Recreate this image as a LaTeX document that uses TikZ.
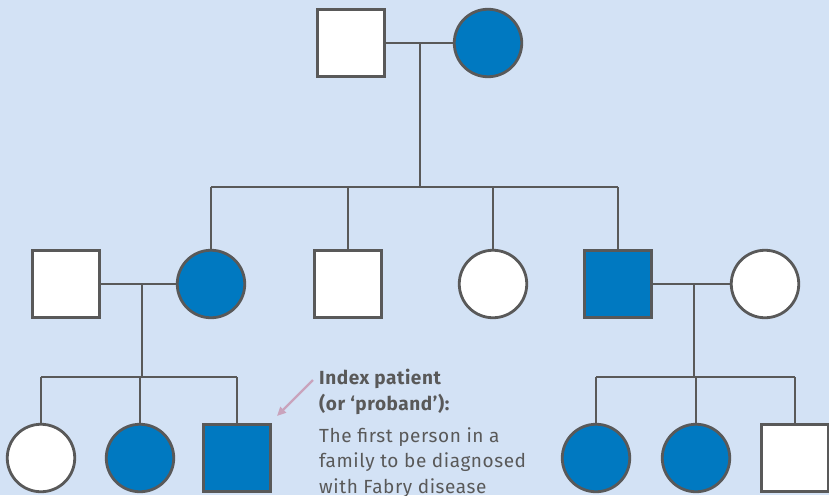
\documentclass[tikz,border=0pt]{standalone}
\usepackage{fontspec}
\setmainfont{Fira Sans}
\newfontfamily\notefont{Fira Sans}[LetterSpace=3]
\usetikzlibrary{arrows.meta}

\definecolor{backdrop}{HTML}{D3E2F5}
\definecolor{affected}{HTML}{0079C1}
\definecolor{edge}{HTML}{595959}
\definecolor{pointer}{HTML}{C9A3BC}

\tikzset{
  male/.style={draw=edge, line width=2.8pt, fill=white, rectangle, minimum size=66.5pt, inner sep=0pt},
  female/.style={draw=edge, line width=2.8pt, fill=white, circle, minimum size=67.5pt, inner sep=0pt},
  hit/.style={fill=affected},
  link/.style={draw=edge, line width=2.6pt},
}

\begin{document}
\begin{tikzpicture}[x=1pt, y=-1pt]

\fill[backdrop] (0,0) rectangle (829,495);
\useasboundingbox (0,0) rectangle (829,495);

% ---- Generation I ----
\node[male]        (gpa) at (351,43) {};
\node[female, hit] (gma) at (488,43) {};
\coordinate (m0) at (420,43);
\coordinate (sib0) at (420,187);

% ---- Generation II ----
\node[male]        (hus1) at (66,284)  {};
\node[female, hit] (dau1) at (211,284) {};
\node[male]        (son1) at (348,284) {};
\node[female]      (dau2) at (493,284) {};
\node[male, hit]   (son2) at (618,284) {};
\node[female]      (wif2) at (765,284) {};

\coordinate (m1) at (142,284);
\coordinate (m2) at (694,284);
\coordinate (sib1) at (142,377);
\coordinate (sib2) at (694,377);

% ---- Generation III ----
\node[female]      (kid1) at (41,458)  {};
\node[female, hit] (kid2) at (140,458) {};
\node[male, hit]   (kid3) at (237,458) {};
\node[female, hit] (kid4) at (596,458) {};
\node[female, hit] (kid5) at (696,458) {};
\node[male]        (kid6) at (795,458) {};

% ---- Couples and descent ----
\draw[link] (gpa) -- (gma);
\draw[link] (m0) -- (sib0);
\draw[link] (dau1.north |- sib0) -- (son2.north |- sib0);
\foreach \who in {dau1, son1, dau2, son2}{
  \draw[link] (\who.north |- sib0) -- (\who.north);
}

\draw[link] (hus1) -- (dau1);
\draw[link] (m1) -- (sib1);
\draw[link] (kid1.north |- sib1) -- (kid3.north |- sib1);
\foreach \who in {kid1, kid2, kid3}{
  \draw[link] (\who.north |- sib1) -- (\who.north);
}

\draw[link] (son2) -- (wif2);
\draw[link] (m2) -- (sib2);
\draw[link] (kid4.north |- sib2) -- (kid6.north |- sib2);
\foreach \who in {kid4, kid5, kid6}{
  \draw[link] (\who.north |- sib2) -- (\who.north);
}

% Annotation
\node[anchor=north west, align=left, text=edge, font=\notefont\fontsize{19}{25.5}\selectfont, inner sep=0pt]
  (note) at (319,369)
  {\textbf{Index patient}\\\textbf{(or ‘proband’):}\\[6.5pt]
   The first person in a\\family to be diagnosed\\with Fabry disease};
\coordinate (tip) at (277,416);
\draw[-{Triangle[length=9pt, width=8pt]}, pointer, line width=2.2pt] (313,380) -- (tip);

\end{tikzpicture}
\end{document}
